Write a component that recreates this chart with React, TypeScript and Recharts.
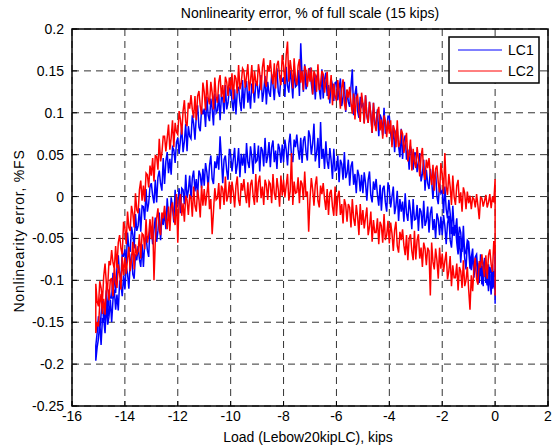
import { LineChart, Line, XAxis, YAxis, CartesianGrid } from 'recharts'

// load steps (kips), shared by every branch below
const loadGrid = [
  -15.1, -15.05,
  -15, -14.95, -14.9, -14.85, -14.8, -14.75, -14.7, -14.65, -14.6, -14.55,
  -14.5, -14.45, -14.4, -14.35, -14.3, -14.25, -14.2, -14.15, -14.1, -14.05,
  -14, -13.95, -13.9, -13.85, -13.8, -13.75, -13.7, -13.65, -13.6, -13.55,
  -13.5, -13.45, -13.4, -13.35, -13.3, -13.25, -13.2, -13.15, -13.1, -13.05,
  -13, -12.95, -12.9, -12.85, -12.8, -12.75, -12.7, -12.65, -12.6, -12.55,
  -12.5, -12.45, -12.4, -12.35, -12.3, -12.25, -12.2, -12.15, -12.1, -12.05,
  -12, -11.95, -11.9, -11.85, -11.8, -11.75, -11.7, -11.65, -11.6, -11.55,
  -11.5, -11.45, -11.4, -11.35, -11.3, -11.25, -11.2, -11.15, -11.1, -11.05,
  -11, -10.95, -10.9, -10.85, -10.8, -10.75, -10.7, -10.65, -10.6, -10.55,
  -10.5, -10.45, -10.4, -10.35, -10.3, -10.25, -10.2, -10.15, -10.1, -10.05,
  -10, -9.95, -9.9, -9.85, -9.8, -9.75, -9.7, -9.65, -9.6, -9.55,
  -9.5, -9.45, -9.4, -9.35, -9.3, -9.25, -9.2, -9.15, -9.1, -9.05,
  -9, -8.95, -8.9, -8.85, -8.8, -8.75, -8.7, -8.65, -8.6, -8.55,
  -8.5, -8.45, -8.4, -8.35, -8.3, -8.25, -8.2, -8.15, -8.1, -8.05,
  -8, -7.95, -7.9, -7.85, -7.8, -7.75, -7.7, -7.65, -7.6, -7.55,
  -7.5, -7.45, -7.4, -7.35, -7.3, -7.25, -7.2, -7.15, -7.1, -7.05,
  -7, -6.95, -6.9, -6.85, -6.8, -6.75, -6.7, -6.65, -6.6, -6.55,
  -6.5, -6.45, -6.4, -6.35, -6.3, -6.25, -6.2, -6.15, -6.1, -6.05,
  -6, -5.95, -5.9, -5.85, -5.8, -5.75, -5.7, -5.65, -5.6, -5.55,
  -5.5, -5.45, -5.4, -5.35, -5.3, -5.25, -5.2, -5.15, -5.1, -5.05,
  -5, -4.95, -4.9, -4.85, -4.8, -4.75, -4.7, -4.65, -4.6, -4.55,
  -4.5, -4.45, -4.4, -4.35, -4.3, -4.25, -4.2, -4.15, -4.1, -4.05,
  -4, -3.95, -3.9, -3.85, -3.8, -3.75, -3.7, -3.65, -3.6, -3.55,
  -3.5, -3.45, -3.4, -3.35, -3.3, -3.25, -3.2, -3.15, -3.1, -3.05,
  -3, -2.95, -2.9, -2.85, -2.8, -2.75, -2.7, -2.65, -2.6, -2.55,
  -2.5, -2.45, -2.4, -2.35, -2.3, -2.25, -2.2, -2.15, -2.1, -2.05,
  -2, -1.95, -1.9, -1.85, -1.8, -1.75, -1.7, -1.65, -1.6, -1.55,
  -1.5, -1.45, -1.4, -1.35, -1.3, -1.25, -1.2, -1.15, -1.1, -1.05,
  -1, -0.95, -0.9, -0.85, -0.8, -0.75, -0.7, -0.65, -0.6, -0.55,
  -0.5, -0.45, -0.4, -0.35, -0.3, -0.25, -0.2, -0.15, -0.1, -0.05,
  0,
]

// LC1, unloading branch (upper)
const lc1Upper = [
  -0.178, -0.163,
  -0.143, -0.16, -0.141, -0.124, -0.151, -0.136, -0.112, -0.143, -0.111, -0.121,
  -0.121, -0.091, -0.099, -0.115, -0.085, -0.07, -0.094, -0.097, -0.067, -0.072,
  -0.063, -0.082, -0.043, -0.062, -0.066, -0.036, -0.045, -0.062, -0.021, -0.041,
  -0.035, -0.014, -0.042, -0.011, -0.012, -0.028, 0.009, -0.018, -0.008, 0.012,
  0.016, 0.001, -0.008, 0.02, -0.007, 0.023, 0.031, 0.015, 0.007, 0.046,
  0.015, 0.042, 0.053, 0.028, 0.045, 0.026, 0.059, 0.056, 0.04, 0.065,
  0.07, 0.051, 0.067, 0.083, 0.053, 0.066, 0.087, 0.054, 0.084, 0.072,
  0.069, 0.097, 0.087, 0.068, 0.096, 0.109, 0.083, 0.078, 0.105, 0.098,
  0.105, 0.083, 0.119, 0.097, 0.09, 0.117, 0.105, 0.085, 0.123, 0.1,
  0.103, 0.122, 0.091, 0.12, 0.117, 0.099, 0.133, 0.104, 0.112, 0.129,
  0.131, 0.114, 0.102, 0.128, 0.098, 0.126, 0.131, 0.113, 0.102, 0.139,
  0.105, 0.13, 0.138, 0.112, 0.126, 0.105, 0.135, 0.13, 0.112, 0.135,
  0.137, 0.117, 0.131, 0.145, 0.113, 0.125, 0.144, 0.11, 0.137, 0.124,
  0.119, 0.146, 0.134, 0.115, 0.141, 0.153, 0.125, 0.119, 0.145, 0.137,
  0.142, 0.119, 0.155, 0.132, 0.124, 0.151, 0.138, 0.117, 0.155, 0.131,
  0.133, 0.151, 0.12, 0.183, 0.144, 0.125, 0.158, 0.128, 0.135, 0.152,
  0.153, 0.135, 0.122, 0.147, 0.116, 0.143, 0.147, 0.128, 0.116, 0.152,
  0.117, 0.14, 0.148, 0.12, 0.133, 0.111, 0.14, 0.133, 0.114, 0.136,
  0.137, 0.115, 0.129, 0.141, 0.108, 0.119, 0.137, 0.101, 0.127, 0.113,
  0.107, 0.132, 0.152, 0.097, 0.122, 0.132, 0.102, 0.094, 0.119, 0.108,
  0.112, 0.088, 0.121, 0.097, 0.088, 0.113, 0.098, 0.076, 0.112, 0.086,
  0.087, 0.104, 0.072, 0.098, 0.093, 0.073, 0.106, 0.075, 0.08, 0.096,
  0.096, 0.076, 0.062, 0.085, 0.053, 0.078, 0.081, 0.06, 0.047, 0.081,
  0.045, 0.067, 0.073, 0.044, 0.056, 0.032, 0.06, 0.052, 0.032, 0.052,
  0.052, 0.029, 0.041, 0.052, 0.018, 0.027, 0.044, 0.007, 0.032, 0.016,
  0.009, 0.033, 0.019, -0.003, 0.021, 0.03, 0, -0.009, 0.015, 0.004,
  0.007, -0.02, 0.012, -0.015, -0.026, -0.004, -0.02, -0.045, -0.011, -0.039,
  -0.04, -0.026, -0.06, -0.036, -0.043, -0.066, -0.035, -0.069, -0.065, -0.052,
  -0.054, -0.074, -0.088, -0.065, -0.097, -0.072, -0.069, -0.09, -0.103, -0.069,
  -0.105, -0.082, -0.075, -0.103, -0.09, -0.113, -0.084, -0.091, -0.11, -0.089,
  -0.097,
]

// LC1, loading branch (lower)
const lc1Lower = [
  -0.196, -0.18,
  -0.17, -0.149, -0.177, -0.146, -0.147, -0.163, -0.126, -0.153, -0.143, -0.123,
  -0.15, -0.123, -0.111, -0.135, -0.117, -0.136, -0.102, -0.105, -0.119, -0.094,
  -0.111, -0.083, -0.092, -0.11, -0.081, -0.068, -0.093, -0.098, -0.069, -0.076,
  -0.059, -0.075, -0.084, -0.057, -0.084, -0.055, -0.047, -0.064, -0.072, -0.034,
  -0.038, -0.057, -0.04, -0.025, -0.054, -0.041, -0.019, -0.052, -0.022, -0.034,
  -0.018, -0.039, -0.002, -0.023, -0.029, -0.001, -0.012, -0.031, 0.008, -0.014,
  -0.01, 0.01, -0.02, 0.01, 0.008, -0.009, 0.026, -0.002, 0.007, 0.025,
  -0.003, 0.022, 0.031, 0.006, 0.021, 0, 0.031, 0.026, 0.01, 0.033,
  0.013, 0.04, 0.029, 0.01, 0.037, 0.049, 0.021, 0.015, 0.042, 0.034,
  0.049, 0.032, 0.072, 0.046, 0.016, 0.044, 0.049, 0.031, 0.02, 0.057,
  0.05, 0.03, 0.045, 0.058, 0.027, 0.038, 0.058, 0.023, 0.051, 0.037,
  0.051, 0.028, 0.064, 0.041, 0.034, 0.06, 0.047, 0.027, 0.064, 0.041,
  0.043, 0.061, 0.03, 0.059, 0.055, 0.036, 0.07, 0.04, 0.048, 0.065,
  0.035, 0.059, 0.067, 0.041, 0.055, 0.033, 0.063, 0.057, 0.04, 0.062,
  0.041, 0.068, 0.056, 0.037, 0.063, 0.075, 0.048, 0.041, 0.068, 0.059,
  0.074, 0.056, 0.044, 0.07, 0.04, 0.067, 0.072, 0.053, 0.043, 0.079,
  0.072, 0.05, 0.063, 0.087, 0.042, 0.052, 0.07, 0.034, 0.089, 0.045,
  0.057, 0.033, 0.066, 0.042, 0.033, 0.058, 0.043, 0.021, 0.057, 0.031,
  0.032, 0.049, 0.017, 0.044, 0.039, 0.02, 0.053, 0.022, 0.028, 0.044,
  0.013, 0.036, 0.042, 0.014, 0.027, 0.004, 0.032, 0.025, 0.006, 0.026,
  0.004, 0.029, 0.016, -0.005, 0.02, 0.03, 0.001, -0.007, 0.018, 0.008,
  0.021, 0.002, -0.011, 0.014, -0.017, 0.009, 0.013, -0.007, -0.018, 0.017,
  0.009, -0.013, 0, 0.012, -0.021, -0.011, 0.007, -0.029, -0.003, -0.018,
  -0.006, -0.03, 0.004, -0.02, -0.029, -0.004, -0.017, -0.039, -0.003, -0.028,
  -0.027, -0.01, -0.041, -0.014, -0.018, -0.038, -0.005, -0.035, -0.029, -0.012,
  -0.043, -0.02, -0.012, -0.04, -0.027, -0.05, -0.02, -0.027, -0.046, -0.024,
  -0.046, -0.022, -0.035, -0.057, -0.032, -0.023, -0.052, -0.061, -0.036, -0.047,
  -0.034, -0.055, -0.069, -0.047, -0.079, -0.055, -0.052, -0.074, -0.087, -0.054,
  -0.063, -0.086, -0.073, -0.062, -0.095, -0.086, -0.068, -0.105, -0.079, -0.095,
  -0.083, -0.107, -0.073, -0.097, -0.106, -0.081, -0.095, -0.117, -0.081, -0.106,
  -0.112,
]

// LC1 readings while the load sits at zero
const lc1AtZero = [-0.066, -0.128, -0.081, -0.118, -0.072]

// LC2, unloading branch (upper)
const lc2Upper = [
  -0.104, -0.125,
  -0.131, -0.101, -0.109, -0.125, -0.095, -0.08, -0.104, -0.107, -0.077, -0.082,
  -0.064, -0.079, -0.087, -0.059, -0.085, -0.055, -0.046, -0.062, -0.069, -0.03,
  -0.038, -0.057, -0.018, -0.037, -0.041, -0.011, -0.02, -0.037, 0.004, -0.016,
  -0.02, 0.008, 0.019, -0.005, 0.013, -0.006, 0.028, 0.026, 0.011, 0.037,
  0.025, 0.046, 0.018, 0.049, 0.048, 0.032, 0.069, 0.042, 0.052, 0.072,
  0.072, 0.054, 0.07, 0.086, 0.056, 0.07, 0.091, 0.059, 0.088, 0.077,
  0.074, 0.102, 0.092, 0.074, 0.102, 0.115, 0.089, 0.084, 0.112, 0.105,
  0.121, 0.104, 0.094, 0.12, 0.091, 0.12, 0.126, 0.108, 0.098, 0.136,
  0.125, 0.103, 0.139, 0.117, 0.11, 0.137, 0.124, 0.104, 0.142, 0.119,
  0.112, 0.137, 0.145, 0.119, 0.133, 0.112, 0.143, 0.137, 0.12, 0.142,
  0.128, 0.147, 0.116, 0.145, 0.141, 0.123, 0.157, 0.128, 0.135, 0.153,
  0.15, 0.13, 0.144, 0.158, 0.126, 0.138, 0.157, 0.123, 0.15, 0.137,
  0.132, 0.158, 0.147, 0.127, 0.154, 0.165, 0.137, 0.131, 0.157, 0.149,
  0.163, 0.145, 0.134, 0.159, 0.129, 0.157, 0.162, 0.143, 0.133, 0.169,
  0.157, 0.134, 0.169, 0.185, 0.137, 0.163, 0.15, 0.129, 0.165, 0.141,
  0.133, 0.156, 0.164, 0.136, 0.15, 0.127, 0.156, 0.15, 0.131, 0.153,
  0.137, 0.154, 0.122, 0.15, 0.145, 0.125, 0.158, 0.127, 0.134, 0.15,
  0.146, 0.124, 0.137, 0.149, 0.116, 0.127, 0.145, 0.109, 0.135, 0.12,
  0.114, 0.139, 0.126, 0.105, 0.13, 0.14, 0.111, 0.103, 0.128, 0.118,
  0.131, 0.112, 0.099, 0.123, 0.092, 0.118, 0.121, 0.101, 0.089, 0.124,
  0.111, 0.087, 0.121, 0.097, 0.088, 0.113, 0.098, 0.076, 0.112, 0.087,
  0.078, 0.101, 0.107, 0.079, 0.092, 0.069, 0.097, 0.09, 0.071, 0.091,
  0.075, 0.091, 0.059, 0.085, 0.079, 0.059, 0.091, 0.059, 0.064, 0.08,
  0.075, 0.052, 0.064, 0.076, 0.042, 0.051, 0.068, 0.031, 0.057, 0.041,
  0.034, 0.059, 0.045, 0.024, 0.048, 0.058, 0.028, 0.02, 0.044, 0.034,
  0.046, 0.027, 0.014, 0.038, 0.007, 0.033, 0.037, 0.017, 0.005, 0.04,
  0.027, 0.003, 0.052, 0.012, 0.002, 0.027, 0.012, -0.01, 0.025, 0,
  -0.01, 0.013, 0.02, -0.008, 0.005, -0.018, 0.011, 0.004, -0.015, 0.006,
  -0.008, 0.001, -0.015, -0.001, -0.003, -0.013, 0.003, -0.011, -0.027, -0.001,
  -0.002, -0.012, -0.005, 0.002, -0.013, -0.007, 0.003, -0.014, 0, -0.007,
  0.021,
]

// LC2, loading branch (lower)
const lc2Lower = [
  -0.163, -0.15,
  -0.155, -0.128, -0.116, -0.14, -0.122, -0.141, -0.107, -0.11, -0.124, -0.099,
  -0.098, -0.119, -0.082, -0.103, -0.109, -0.081, -0.092, -0.111, -0.072, -0.094,
  -0.073, -0.092, -0.075, -0.06, -0.089, -0.076, -0.054, -0.087, -0.057, -0.069,
  -0.065, -0.045, -0.074, -0.044, -0.046, -0.063, -0.027, -0.055, -0.046, -0.027,
  -0.051, -0.024, -0.1, -0.053, -0.026, -0.014, -0.04, -0.046, -0.019, -0.026,
  -0.011, -0.028, -0.039, -0.012, -0.041, -0.013, -0.007, -0.025, -0.034, 0.003,
  -0.055, -0.005, 0.003, -0.023, -0.008, -0.03, 0.001, -0.004, -0.022, 0.001,
  -0.001, -0.024, 0.012, -0.011, -0.018, 0.008, -0.004, -0.025, 0.013, -0.011,
  0.009, -0.011, 0.003, 0.017, -0.015, -0.003, -0.045, -0.018, 0.01, -0.004,
  -0.002, 0.016, -0.015, 0.013, 0.009, -0.01, 0.024, -0.006, 0.001, 0.018,
  -0.008, 0.018, 0.006, -0.013, 0.013, 0.024, -0.004, -0.011, 0.016, 0.007,
  0.021, 0.003, -0.008, 0.017, -0.013, 0.014, 0.02, 0.001, -0.01, 0.027,
  -0.007, 0.017, 0.025, -0.002, 0.012, -0.01, 0.02, 0.014, -0.004, 0.018,
  0.015, -0.008, 0.027, 0.004, -0.004, 0.022, 0.009, -0.012, 0.025, 0.001,
  0.02, -0.001, 0.013, 0.027, -0.005, 0.006, 0.052, -0.01, 0.018, 0.004,
  0.005, 0.023, -0.008, 0.019, 0.015, -0.004, 0.03, 0, 0.006, -0.042,
  -0.003, 0.022, 0.009, -0.011, 0.014, 0.024, -0.005, -0.013, 0.013, 0.003,
  0.016, -0.003, -0.016, 0.009, -0.022, 0.004, 0.008, -0.012, -0.023, 0.012,
  -0.023, 0, 0.007, -0.022, -0.009, -0.032, -0.003, -0.01, -0.03, -0.009,
  -0.013, -0.037, -0.003, -0.026, -0.035, -0.01, -0.024, -0.046, -0.009, -0.034,
  -0.016, -0.038, -0.025, -0.013, -0.046, -0.036, -0.018, -0.054, -0.028, -0.043,
  -0.043, -0.026, -0.057, -0.03, -0.035, -0.055, -0.021, -0.052, -0.046, -0.029,
  -0.056, -0.031, -0.044, -0.065, -0.04, -0.03, -0.059, -0.067, -0.042, -0.052,
  -0.039, -0.058, -0.07, -0.046, -0.076, -0.05, -0.045, -0.065, -0.076, -0.041,
  -0.075, -0.052, -0.045, -0.074, -0.061, -0.084, -0.055, -0.062, -0.082, -0.061,
  -0.065, -0.118, -0.055, -0.078, -0.087, -0.062, -0.076, -0.098, -0.061, -0.086,
  -0.068, -0.09, -0.077, -0.066, -0.099, -0.089, -0.071, -0.107, -0.082, -0.097,
  -0.097, -0.08, -0.112, -0.084, -0.089, -0.109, -0.076, -0.107, -0.1, -0.084,
  -0.111, -0.135, -0.094, -0.113, -0.085, -0.073, -0.099, -0.105, -0.077, -0.085,
  -0.069, -0.086, -0.096, -0.07, -0.098, -0.07, -0.063, -0.081, -0.09, -0.053,
  -0.072,
]

// LC2 readings while the load sits at zero
const lc2AtZero = [0.004, -0.04, -0.012, -0.058, -0.118, -0.045, -0.09, -0.072]

const xTicks = [-16, -14, -12, -10, -8, -6, -4, -2, 0, 2]
const yTicks = [-0.25, -0.2, -0.15, -0.1, -0.05, 0, 0.05, 0.1, 0.15, 0.2]

const FONT = '"Liberation Sans", Arial, Helvetica, sans-serif'

// walk the loop: load down along the lower branch, back up along the upper one, then sit at zero
function buildLoop(upper: number[], lower: number[], atZero: number[]) {
  const down = lower.map((y, i) => ({ x: loadGrid[i], y })).reverse()
  const up = upper.map((y, i) => ({ x: loadGrid[i], y }))
  const rest = atZero.map((y) => ({ x: 0, y }))
  return [...down, ...up, ...rest]
}

const lc1Data = buildLoop(lc1Upper, lc1Lower, lc1AtZero)
const lc2Data = buildLoop(lc2Upper, lc2Lower, lc2AtZero)

const noTick = () => <g />

export default function App() {
  return (
    <div style={{ position: 'absolute', left: 0, top: 0, width: 558, height: 448, background: '#fff' }}>
      <LineChart
        width={558}
        height={448}
        margin={{ top: 29, right: 10, bottom: 0, left: 0 }}
        style={{ fontFamily: FONT }}
      >
        <CartesianGrid
          xAxisId="bottom"
          yAxisId="left"
          stroke="#333"
          strokeDasharray="7 5"
          strokeWidth={1}
        />
        <XAxis
          xAxisId="bottom"
          type="number"
          dataKey="x"
          domain={[-16, 2]}
          ticks={xTicks}
          height={42}
          allowDataOverflow
          tickSize={-5}
          tickMargin={10}
          axisLine={false}
          tickLine={{ stroke: '#000' }}
          tick={{ fontSize: 14, fill: '#000' }}
        />
        <XAxis
          xAxisId="top"
          orientation="top"
          type="number"
          dataKey="x"
          domain={[-16, 2]}
          ticks={xTicks}
          height={0}
          allowDataOverflow
          tickSize={-5}
          axisLine={false}
          tickLine={{ stroke: '#000' }}
          tick={noTick}
        />
        <YAxis
          yAxisId="left"
          type="number"
          domain={[-0.25, 0.2]}
          ticks={yTicks}
          width={72}
          allowDataOverflow
          tickSize={-5}
          tickMargin={13}
          axisLine={false}
          tickLine={{ stroke: '#000' }}
          tick={{ fontSize: 14, fill: '#000' }}
        />
        <YAxis
          yAxisId="right"
          orientation="right"
          type="number"
          domain={[-0.25, 0.2]}
          ticks={yTicks}
          width={0}
          allowDataOverflow
          tickSize={-5}
          axisLine={false}
          tickLine={{ stroke: '#000' }}
          tick={noTick}
        />
        <Line
          xAxisId="bottom"
          yAxisId="left"
          data={lc1Data}
          dataKey="y"
          name="LC1"
          stroke="#0000ff"
          strokeWidth={1.5}
          dot={false}
          activeDot={false}
          isAnimationActive={false}
        />
        <Line
          xAxisId="bottom"
          yAxisId="left"
          data={lc2Data}
          dataKey="y"
          name="LC2"
          stroke="#ff0000"
          strokeWidth={1.5}
          dot={false}
          activeDot={false}
          isAnimationActive={false}
        />

        {/* axes box, MATLAB style */}
        <rect x={72} y={29} width={476} height={377} fill="none" stroke="#000" strokeWidth={1.5} />

        <text x={310} y={17.5} textAnchor="middle" fontSize={14} fill="#000" fontFamily={FONT}>
          Nonlinearity error, % of full scale (15 kips)
        </text>
        <text x={308} y={442} textAnchor="middle" fontSize={14} fill="#000" fontFamily={FONT}>
          Load (Lebow20kipLC), kips
        </text>
        <text
          transform="translate(23.5,231) rotate(-90)"
          textAnchor="middle"
          fontSize={14}
          letterSpacing={0.8}
          fill="#000"
          fontFamily={FONT}
        >
          Nonlinearity error, %FS
        </text>

        {/* legend box */}
        <g>
          <rect x={449} y={37} width={90} height={46} fill="#fff" stroke="#000" strokeWidth={1.5} />
          <line x1={458} y1={50} x2={502} y2={50} stroke="#0000ff" strokeWidth={1} />
          <text x={508} y={55} fontSize={14} fill="#000" fontFamily={FONT}>LC1</text>
          <line x1={458} y1={71} x2={502} y2={71} stroke="#ff0000" strokeWidth={1} />
          <text x={508} y={76} fontSize={14} fill="#000" fontFamily={FONT}>LC2</text>
        </g>
      </LineChart>
    </div>
  )
}
